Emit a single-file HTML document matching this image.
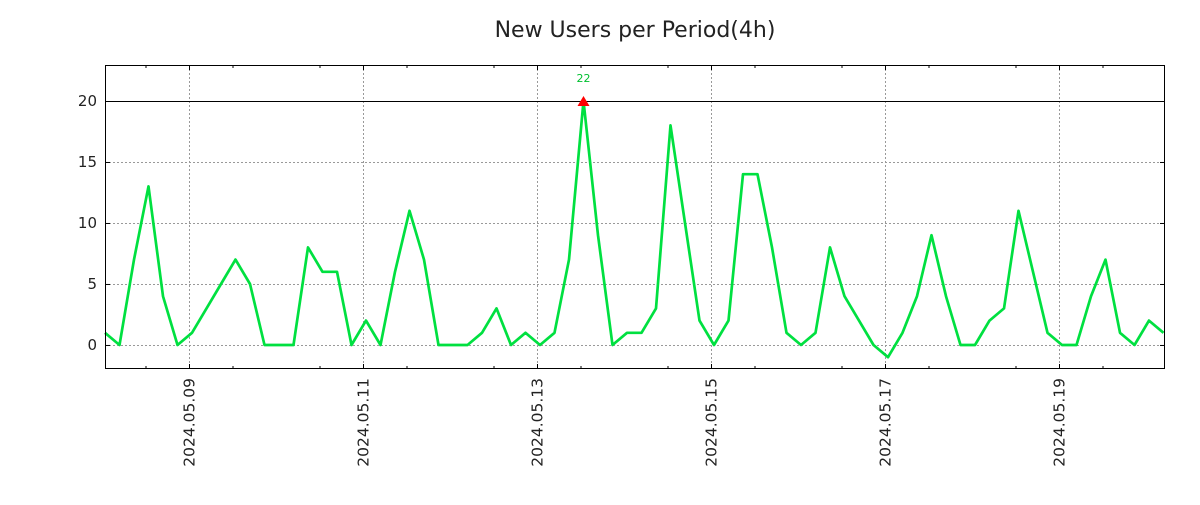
<!DOCTYPE html>
<html><head><meta charset="utf-8"><style>
html,body{margin:0;padding:0;background:#fff;}
svg text{font-family:"DejaVu Sans","Liberation Sans",sans-serif;}
</style></head><body>
<svg id="chart" width="1200" height="500" xmlns="http://www.w3.org/2000/svg">
<rect width="1200" height="500" fill="#fff"/>
<text x="635" y="37" font-size="22" text-anchor="middle" fill="#222">New Users per Period(4h)</text>
<g id="grid"></g>
<g id="axes"></g>
<g id="series"></g>
<rect x="105.5" y="65.5" width="1059" height="303" fill="none" stroke="#000" stroke-width="1"/>
</svg>
<script>
const values = [1,0,7,13,4,0,1,3,5,7,5,0,0,0,8,6,6,0,2,0,6,11,7,0,0,0,1,3,0,1,0,1,7,20,9,0,1,1,3,18,10,2,0,2,14,14,8,1,0,1,8,4,2,0,-1,1,4,9,4,0,0,2,3,11,6,1,0,0,4,7,1,0,2,1];
const yTicks = [0,5,10,15,20];
const xTickLabels = ["2024.05.09","2024.05.11","2024.05.13","2024.05.15","2024.05.17","2024.05.19"];
const xTickDays = [1,3,5,7,9,11];
const peakLabel = "22";
const refLine = 20;

const NS="http://www.w3.org/2000/svg";
const L=105,R=1165,T=65,B=369;
const yMin=-1.97,yMax=22.95;
const y=v=>B-(v-yMin)/(yMax-yMin)*(B-T);
const pxPerPeriod=14.5;
const x=i=>L+i*pxPerPeriod;
function mk(tag,attrs,parent){const e=document.createElementNS(NS,tag);for(const k in attrs)e.setAttribute(k,attrs[k]);parent.appendChild(e);return e;}
const grid=document.getElementById('grid'),axes=document.getElementById('axes'),series=document.getElementById('series');
const dayX=d=>189+(d-1)*87;
yTicks.forEach(v=>{
  const g=mk('line',{x1:L,x2:R,y1:y(v)+0.5,y2:y(v)+0.5,stroke:'#999','stroke-dasharray':'2,2'},grid);
  
  
  mk('line',{x1:L,x2:L+5,y1:y(v)+0.5,y2:y(v)+0.5,stroke:'#000'},axes);
  mk('line',{x1:R-5,x2:R,y1:y(v)+0.5,y2:y(v)+0.5,stroke:'#000'},axes);
  const t=mk('text',{x:L-8,y:y(v)+5,'font-size':15,'text-anchor':'end',fill:'#222'},axes);
  t.textContent=v;
  
  
});
xTickDays.forEach((d,i)=>{
  const xx=Math.round(dayX(d))+0.5;
  const g=mk('line',{x1:xx,x2:xx,y1:T,y2:B,stroke:'#999','stroke-dasharray':'2,2'},grid);
  
  
  mk('line',{x1:xx,x2:xx,y1:B-5,y2:B,stroke:'#000'},axes);
  mk('line',{x1:xx,x2:xx,y1:T,y2:T+5,stroke:'#000'},axes);
  const t=mk('text',{x:0,y:0,'font-size':15.5,'text-anchor':'end',fill:'#222',transform:`translate(${xx+5},378) rotate(-90)`},axes);
  t.textContent=xTickLabels[i];
  
  
});
for(let d=0;d<=12;d++){const xx=Math.round(dayX(d))+0.5-43.5; if(xx>L&&xx<R){mk('line',{x1:xx,x2:xx,y1:B-3,y2:B,stroke:'#000'},axes);mk('line',{x1:xx,x2:xx,y1:T,y2:T+3,stroke:'#000'},axes);}}
const rl=mk('line',{x1:L,x2:R,y1:y(refLine)+0.5,y2:y(refLine)+0.5,stroke:'#000'},grid);


const pts=values.map((v,i)=>x(i).toFixed(1)+','+y(v).toFixed(1)).join(' ');
const line=mk('polyline',{points:pts,fill:'none',stroke:'#00e040','stroke-width':2.7,'stroke-linejoin':'round'},series);


let pi=0;values.forEach((v,i)=>{if(v>values[pi])pi=i;});
const px=x(pi),py=y(values[pi]);
const tri=mk('polygon',{points:`${px-6},${py+5} ${px+6},${py+5} ${px},${py-5}`,fill:'#f00'},series);


const pl=mk('text',{x:px,y:py-19,'font-size':11,'text-anchor':'middle',fill:'#00c030'},series);
pl.textContent=peakLabel;


</script>
</body></html>
